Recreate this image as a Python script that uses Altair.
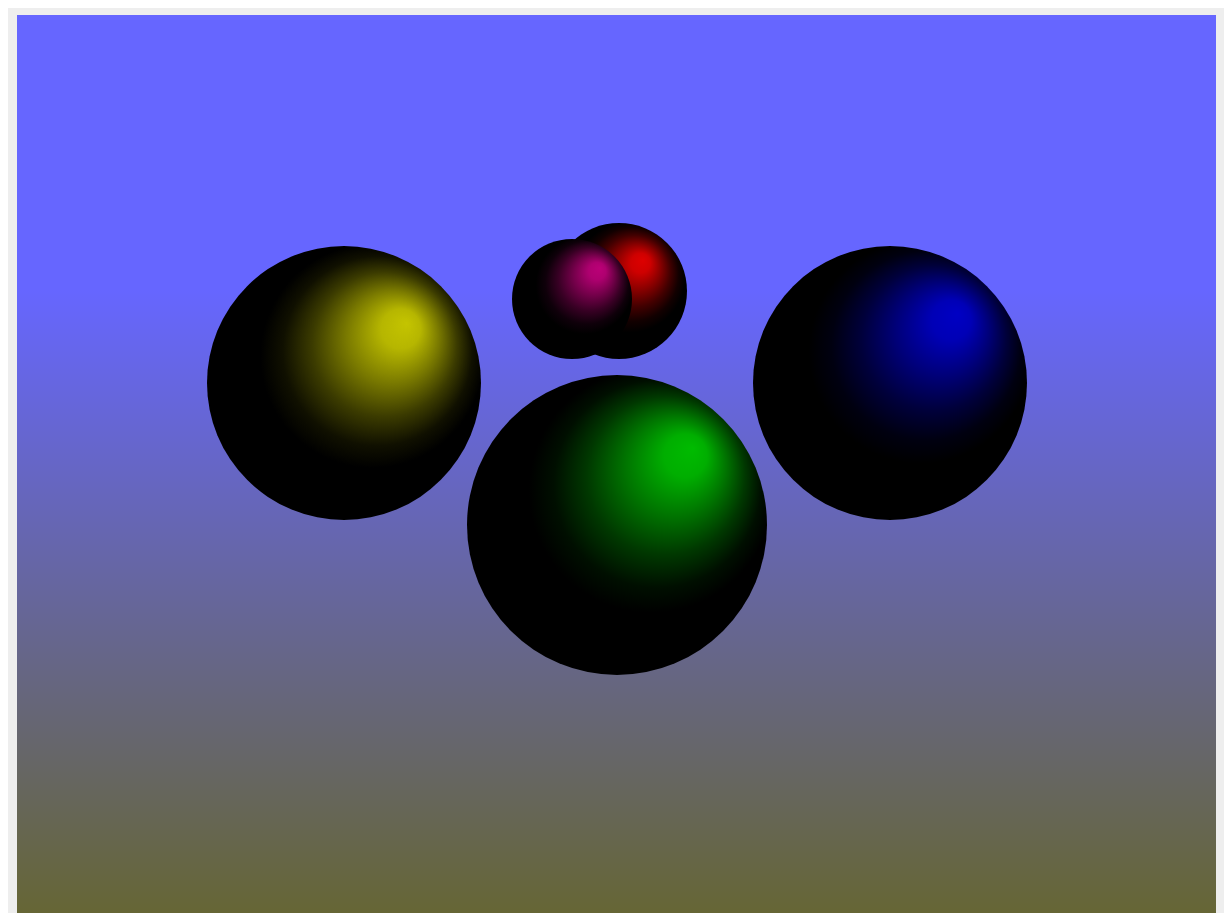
import altair as alt
import pandas as pd

# ---- data (pixel coordinates of the reference image) ----
sphere_names = ["yellow", "blue", "green", "red", "magenta"]
sphere_cx = [344, 890, 617, 619, 572]
sphere_cy = [383, 383, 525, 291, 299]
sphere_r = [137, 137, 150, 68, 60]
highlight_x = [407, 958, 693, 643, 600]
highlight_y = [323, 313, 448, 260, 268]
highlight_color = ["#c4c400", "#0000c4", "#00bb00", "#dd0000", "#bb0077"]

scene_x = [17, 1216]
scene_y = [15, 913]
sky_color = "#6666ff"
ground_color = "#666635"
horizon_y = 290

W = scene_x[1] - scene_x[0]
H = scene_y[1] - scene_y[0]

spheres = pd.DataFrame({
    "name": sphere_names,
    "cx": sphere_cx,
    "cy": sphere_cy,
    "size": [(2 * r) ** 2 for r in sphere_r],
})
bg = pd.DataFrame({"x0": [scene_x[0]], "x1": [scene_x[1]],
                   "y0": [scene_y[0]], "y1": [scene_y[1]]})

xs = alt.Scale(domain=[scene_x[0], scene_x[1]], nice=False, zero=False)
ys = alt.Scale(domain=[scene_y[0], scene_y[0] + H], nice=False, zero=False, reverse=True)

sky_off = (horizon_y - scene_y[0]) / (scene_y[1] - scene_y[0])
background = alt.Chart(bg).mark_rect(
    clip=True,
    color={"gradient": "linear", "x1": 0, "y1": 0, "x2": 0, "y2": 1,
           "stops": [{"offset": 0, "color": sky_color},
                     {"offset": sky_off, "color": sky_color},
                     {"offset": 1, "color": ground_color}]},
).encode(
    x=alt.X("x0:Q", scale=xs, axis=None),
    x2="x1:Q",
    y=alt.Y("y0:Q", scale=ys, axis=None),
    y2="y1:Q",
)


def shade(hexcol, k):
    r, g, b = (int(hexcol[i:i + 2], 16) for i in (1, 3, 5))
    return "#%02x%02x%02x" % (round(r * k), round(g * k), round(b * k))


layers = [background]
for name, cx, cy, r, hx, hy, col in zip(sphere_names, sphere_cx, sphere_cy, sphere_r,
                                        highlight_x, highlight_y, highlight_color):
    fx = 0.5 + (hx - cx) / (2 * r)
    fy = 0.5 + (hy - cy) / (2 * r)
    ox = 0.5 + (fx - 0.5) * 0.35
    oy = 0.5 + (fy - 0.5) * 0.35
    grad = {
        "gradient": "radial",
        "x1": fx, "y1": fy, "r1": 0,
        "x2": ox, "y2": oy, "r2": 0.48,
        "stops": [
            {"offset": 0.0, "color": col},
            {"offset": 0.15, "color": shade(col, 0.93)},
            {"offset": 0.35, "color": shade(col, 0.62)},
            {"offset": 0.55, "color": shade(col, 0.3)},
            {"offset": 0.72, "color": shade(col, 0.08)},
            {"offset": 0.85, "color": "#000000"},
            {"offset": 1.0, "color": "#000000"},
        ],
    }
    layer = alt.Chart(spheres).transform_filter(
        alt.datum.name == name
    ).mark_circle(color=grad, opacity=1).encode(
        x=alt.X("cx:Q", scale=xs, axis=None),
        y=alt.Y("cy:Q", scale=ys, axis=None),
        size=alt.Size("size:Q", scale=None, legend=None),
    )
    layers.append(layer)

chart = alt.layer(*layers).properties(
    width=W, height=H,
    background="#eeeeee",
    padding={"left": 9, "top": 7, "right": 8, "bottom": 0},
).configure_view(stroke=None)

chart.save("out.html", embed_options={"renderer": "svg", "actions": False})
